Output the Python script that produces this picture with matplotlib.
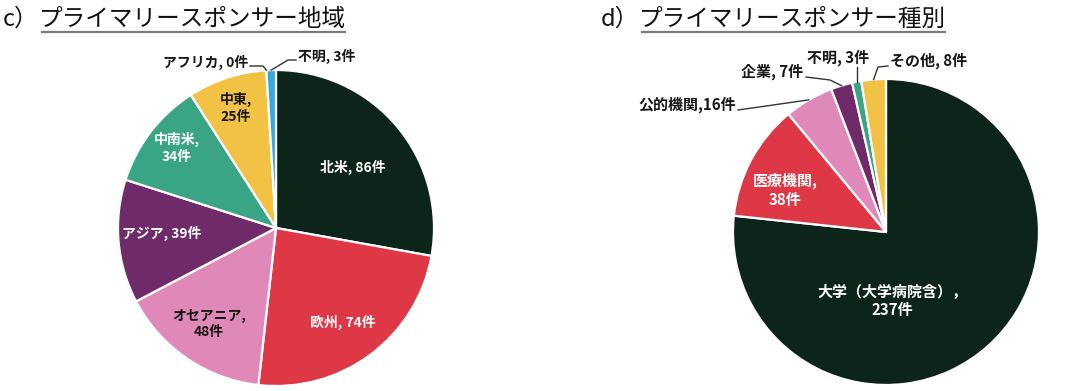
import matplotlib
matplotlib.use("Agg")
import matplotlib.pyplot as plt
import numpy as np

plt.rcParams['font.family'] = ['Noto Sans CJK JP', 'DejaVu Sans']

# ---------------- data ----------------
region_labels = ["北米", "欧州", "オセアニア", "アジア", "中南米", "中東", "アフリカ", "不明"]
region_values = [86, 74, 48, 39, 34, 25, 0, 3]
region_colors = ["#0c2419", "#de3746", "#e089b9", "#6e2a69", "#3aa584", "#f1c244", "#f1c244", "#35a9de"]

type_labels = ["大学（大学病院含）", "医療機関", "公的機関", "企業", "不明", "その他"]
type_values = [237, 38, 16, 7, 3, 8]
type_colors = ["#0c2419", "#de3746", "#e089b9", "#6e2a69", "#3aa584", "#f1c244"]

title_c = ("c）", "プライマリースポンサー地域")
title_d = ("d）", "プライマリースポンサー種別")

W, H = 1074, 391
fig = plt.figure(figsize=(W / 100, H / 100), dpi=100)
ax = fig.add_axes([0, 0, 1, 1])

DARK = "#161616"
WHITE = "#ffffff"


def draw_pie(values, colors, center, radius):
    # y axis is inverted (pixel coords), so counterclock=True draws clockwise on screen
    wedges, _ = ax.pie(values, colors=colors, center=center, radius=radius,
                       startangle=-90, counterclock=True,
                       wedgeprops=dict(edgecolor="white", linewidth=1.6))
    return wedges


def edge_point(w, frac=1.0):
    t = np.deg2rad((w.theta1 + w.theta2) / 2)
    cx, cy = w.center
    return cx + w.r * frac * np.cos(t), cy + w.r * frac * np.sin(t)


# ---------------- left pie ----------------
cL, rL = (276, 228), 158
wl = draw_pie(region_values, region_colors, cL, rL)

lab_kw = dict(fontsize=10, fontweight="bold", ha="center", va="center", linespacing=1.2)
left_inside = [
    (0, "{l}, {v}件", WHITE, 353, 167),
    (1, "{l}, {v}件", WHITE, 343, 322),
    (2, "{l},\n{v}件", DARK, 209, 324),
    (3, "{l}, {v}件", WHITE, 162, 233),
    (4, "{l},\n{v}件", WHITE, 177, 148),
    (5, "{l},\n{v}件", DARK, 236, 108),
]
for i, tmpl, col, x, y in left_inside:
    ax.text(x, y, tmpl.format(l=region_labels[i], v=region_values[i]), color=col, **lab_kw)

# アフリカ
i = 6
ex, ey = edge_point(wl[i])
ax.plot([ex, 263, 250], [ey, 66, 66], color="#333333", lw=1)
ax.text(248, 62, f"{region_labels[i]}, {region_values[i]}件", color=DARK, fontsize=10,
        fontweight="bold", ha="right", va="center")
# 不明
i = 7
ex, ey = edge_point(wl[i])
ax.plot([ex, 288, 296], [ey, 60, 60], color="#333333", lw=1)
ax.text(298, 56, f"{region_labels[i]}, {region_values[i]}件", color=DARK, fontsize=10,
        fontweight="bold", ha="left", va="center")

# ---------------- right pie ----------------
cR, rR = (886, 232), 153
wr = draw_pie(type_values, type_colors, cR, rR)

RFS = 10.8
rlab_kw = dict(lab_kw, fontsize=RFS)
ax.text(892, 301, f"{type_labels[0]}，\n{type_values[0]}件", color=WHITE, **rlab_kw)
ax.text(785, 190, f"{type_labels[1]},\n{type_values[1]}件", color=WHITE, **rlab_kw)

# 公的機関
i = 2
ex, ey = edge_point(wr[i])
ax.plot([ex, 738], [ey, 110], color="#333333", lw=1)
ax.text(736, 105, f"{type_labels[i]},{type_values[i]}件", color=DARK, fontsize=RFS,
        fontweight="bold", ha="right", va="center")
# 企業
i = 3
ex, ey = edge_point(wr[i])
ax.plot([ex, 830, 806], [ey, 80, 77], color="#333333", lw=1)
ax.text(803, 72, f"{type_labels[i]}, {type_values[i]}件", color=DARK, fontsize=RFS,
        fontweight="bold", ha="right", va="center")
# 不明
i = 4
ex, ey = edge_point(wr[i])
ax.plot([ex, ex], [ey, 67], color="#333333", lw=1)
ax.text(838, 58, f"{type_labels[i]}, {type_values[i]}件", color=DARK, fontsize=RFS,
        fontweight="bold", ha="center", va="center")
# その他
i = 5
ex, ey = edge_point(wr[i])
ax.plot([ex, 878, 888], [ey, 67, 66], color="#333333", lw=1)
ax.text(890, 61, f"{type_labels[i]}, {type_values[i]}件", color=DARK, fontsize=RFS,
        fontweight="bold", ha="left", va="center")

ax.set_aspect("equal")
ax.set_xlim(0, W)
ax.set_ylim(H, 0)
ax.axis("off")

# ---------------- titles ----------------
title_kw = dict(fontsize=17, color="#111111", va="baseline", ha="left")
for (prefix, body), x0 in ((title_c, 3), (title_d, 601)):
    t1 = ax.text(x0, 26, prefix, **title_kw)
    fig.canvas.draw()
    bb = t1.get_window_extent()
    t2 = ax.text(bb.x1, 26, body, **title_kw)
    fig.canvas.draw()
    bb2 = t2.get_window_extent()
    ax.plot([bb2.x0 + 2, bb2.x1], [32, 32], color="#7a7a7a", lw=1.6, solid_capstyle="butt")

fig.savefig("out.png", dpi=100)
